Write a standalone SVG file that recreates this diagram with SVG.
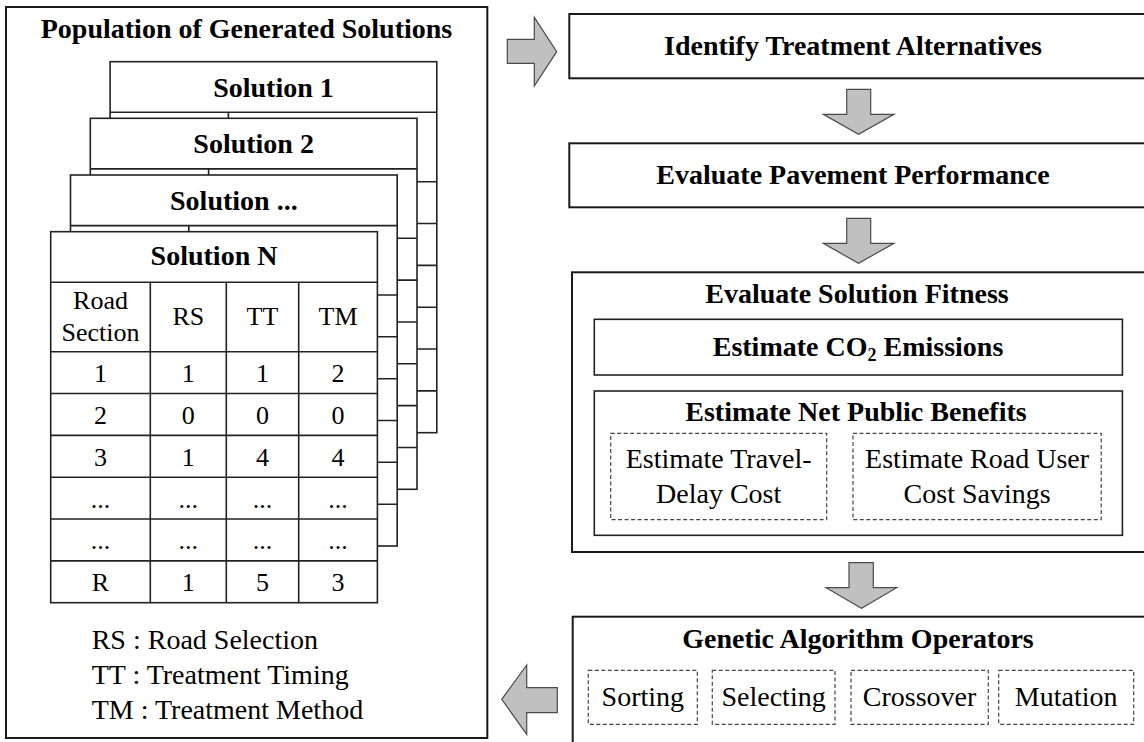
<svg xmlns="http://www.w3.org/2000/svg" width="1144" height="742" viewBox="0 0 1144 742">
<style>
.box{fill:#fff;stroke:#1a1a1a;stroke-width:2}
.tb{fill:#fff;stroke:#222;stroke-width:1.6}
.ln{stroke:#222;stroke-width:1.6;fill:none}
.dash{fill:#fff;stroke:#444;stroke-width:1.2;stroke-dasharray:4 2.5}
.arr{fill:#c0c0c0;stroke:#4a4a4a;stroke-width:1.2;stroke-linejoin:miter}
.b{font-family:"Liberation Serif","Times New Roman",serif;font-weight:bold;font-size:28px;fill:#000;text-anchor:middle}
.n{font-family:"Liberation Serif","Times New Roman",serif;font-size:28px;fill:#000;text-anchor:middle}
.c{font-family:"Liberation Serif","Times New Roman",serif;font-size:26px;fill:#000;text-anchor:middle}
.l{font-family:"Liberation Serif","Times New Roman",serif;font-size:28px;fill:#000}
</style>
<defs>
<g id="bgtable">
<rect class="tb" x="0" y="0" width="326.7" height="371"/>
<path class="ln" d="M0 50.6H326.7M0 120H326.7M0 161.8H326.7M0 203.7H326.7M0 245.5H326.7M0 287.3H326.7M0 329.2H326.7M118.3 50.6V371"/>
</g>
</defs>

<g id="population">
<rect class="box" x="6" y="7" width="481.3" height="731"/>
<text class="b" x="246.5" y="38">Population of Generated Solutions</text>
</g>

<g id="solution1" transform="translate(110.1,61.7)">
<use href="#bgtable"/>
<text class="b" x="163.35" y="35">Solution 1</text>
</g>
<g id="solution2" transform="translate(90.3,118.3)">
<use href="#bgtable"/>
<text class="b" x="163.35" y="34.5">Solution 2</text>
</g>
<g id="solution-dots" transform="translate(70.5,175)">
<use href="#bgtable"/>
<text class="b" x="163.35" y="34.5">Solution ...</text>
</g>

<g id="solutionN" transform="translate(50.7,231.7)">
<rect class="tb" x="0" y="0" width="326.7" height="371"/>
<path class="ln" d="M0 50.6H326.7M0 120H326.7M0 161.8H326.7M0 203.7H326.7M0 245.5H326.7M0 287.3H326.7M0 329.2H326.7M99.6 50.6V371M175.6 50.6V371M248 50.6V371"/>
<text class="b" x="163.35" y="33.5">Solution N</text>
<text class="c" x="49.8" y="77.5">Road</text>
<text class="c" x="49.8" y="109">Section</text>
<text class="c" x="137.6" y="93.5">RS</text>
<text class="c" x="211.8" y="93.5">TT</text>
<text class="c" x="287.3" y="93.5">TM</text>
<g>
<text class="c" x="49.8" y="150">1</text><text class="c" x="137.6" y="150">1</text><text class="c" x="211.8" y="150">1</text><text class="c" x="287.3" y="150">2</text>
<text class="c" x="49.8" y="192">2</text><text class="c" x="137.6" y="192">0</text><text class="c" x="211.8" y="192">0</text><text class="c" x="287.3" y="192">0</text>
<text class="c" x="49.8" y="234">3</text><text class="c" x="137.6" y="234">1</text><text class="c" x="211.8" y="234">4</text><text class="c" x="287.3" y="234">4</text>
<text class="c" x="49.8" y="276">...</text><text class="c" x="137.6" y="276">...</text><text class="c" x="211.8" y="276">...</text><text class="c" x="287.3" y="276">...</text>
<text class="c" x="49.8" y="317.5">...</text><text class="c" x="137.6" y="317.5">...</text><text class="c" x="211.8" y="317.5">...</text><text class="c" x="287.3" y="317.5">...</text>
<text class="c" x="49.8" y="359">R</text><text class="c" x="137.6" y="359">1</text><text class="c" x="211.8" y="359">5</text><text class="c" x="287.3" y="359">3</text>
</g>
</g>

<g id="legend">
<text class="l" x="91.7" y="649">RS : Road Selection</text>
<text class="l" x="91.7" y="683.5">TT : Treatment Timing</text>
<text class="l" x="91.7" y="718.5">TM : Treatment Method</text>
</g>

<g id="identify">
<rect class="box" x="569.3" y="14" width="590" height="64.3"/>
<text class="b" x="853" y="55">Identify Treatment Alternatives</text>
</g>

<g id="pavement">
<rect class="box" x="569.3" y="143.3" width="590" height="64"/>
<text class="b" x="853" y="184">Evaluate Pavement Performance</text>
</g>

<g id="fitness">
<rect class="box" x="572" y="272.3" width="590" height="279.7"/>
<text class="b" x="857" y="302.7">Evaluate Solution Fitness</text>
<g id="co2">
<rect class="tb" x="594.3" y="319.3" width="528.1" height="55.7"/>
<text class="b" x="858" y="356">Estimate CO<tspan font-size="18" dy="5">2</tspan><tspan dy="-5"> Emissions</tspan></text>
</g>
<g id="benefits">
<rect class="tb" x="594.3" y="391" width="528.1" height="144.3"/>
<text class="b" x="856" y="421">Estimate Net Public Benefits</text>
<g id="travel-delay">
<rect class="dash" x="610.7" y="433.3" width="216" height="86.4"/>
<text class="n" x="718.7" y="468.3">Estimate Travel-</text>
<text class="n" x="718.7" y="502.7">Delay Cost</text>
</g>
<g id="road-user">
<rect class="dash" x="853" y="433.3" width="248.2" height="86.4"/>
<text class="n" x="977.1" y="468.3">Estimate Road User</text>
<text class="n" x="977.1" y="502.7">Cost Savings</text>
</g>
</g>
</g>

<g id="ga">
<rect class="box" x="572.7" y="616.7" width="590" height="140"/>
<text class="b" x="858" y="647.7">Genetic Algorithm Operators</text>
<g id="sorting"><rect class="dash" x="588.3" y="670.3" width="109" height="54"/><text class="n" x="642.8" y="705.5">Sorting</text></g>
<g id="selecting"><rect class="dash" x="712.3" y="670.3" width="122.7" height="54"/><text class="n" x="773.6" y="705.5">Selecting</text></g>
<g id="crossover"><rect class="dash" x="851" y="670.3" width="137.3" height="54"/><text class="n" x="919.6" y="705.5">Crossover</text></g>
<g id="mutation"><rect class="dash" x="998.7" y="670.3" width="135" height="54"/><text class="n" x="1066.2" y="705.5">Mutation</text></g>
</g>

<g id="connectors">
<polygon class="arr" points="507.3,39.3 534.3,39.3 534.3,17.3 556.7,51.7 534.3,86 534.3,63.3 507.3,63.3"/>
<polygon class="arr" points="846.7,89.3 870.7,89.3 870.7,114.3 894,114.3 858.5,134.3 823.3,114.3 846.7,114.3"/>
<polygon class="arr" points="846.7,218.3 870.7,218.3 870.7,243.3 894,243.3 858.5,263.3 823.3,243.3 846.7,243.3"/>
<polygon class="arr" points="849,562.7 873.3,562.7 873.3,587.7 896.7,587.7 861.5,608.3 826,587.7 849,587.7"/>
<polygon class="arr" points="557.3,687.7 526.7,687.7 526.7,665 501.7,699.3 526.7,734.3 526.7,712.7 557.3,712.7"/>
</g>
</svg>
